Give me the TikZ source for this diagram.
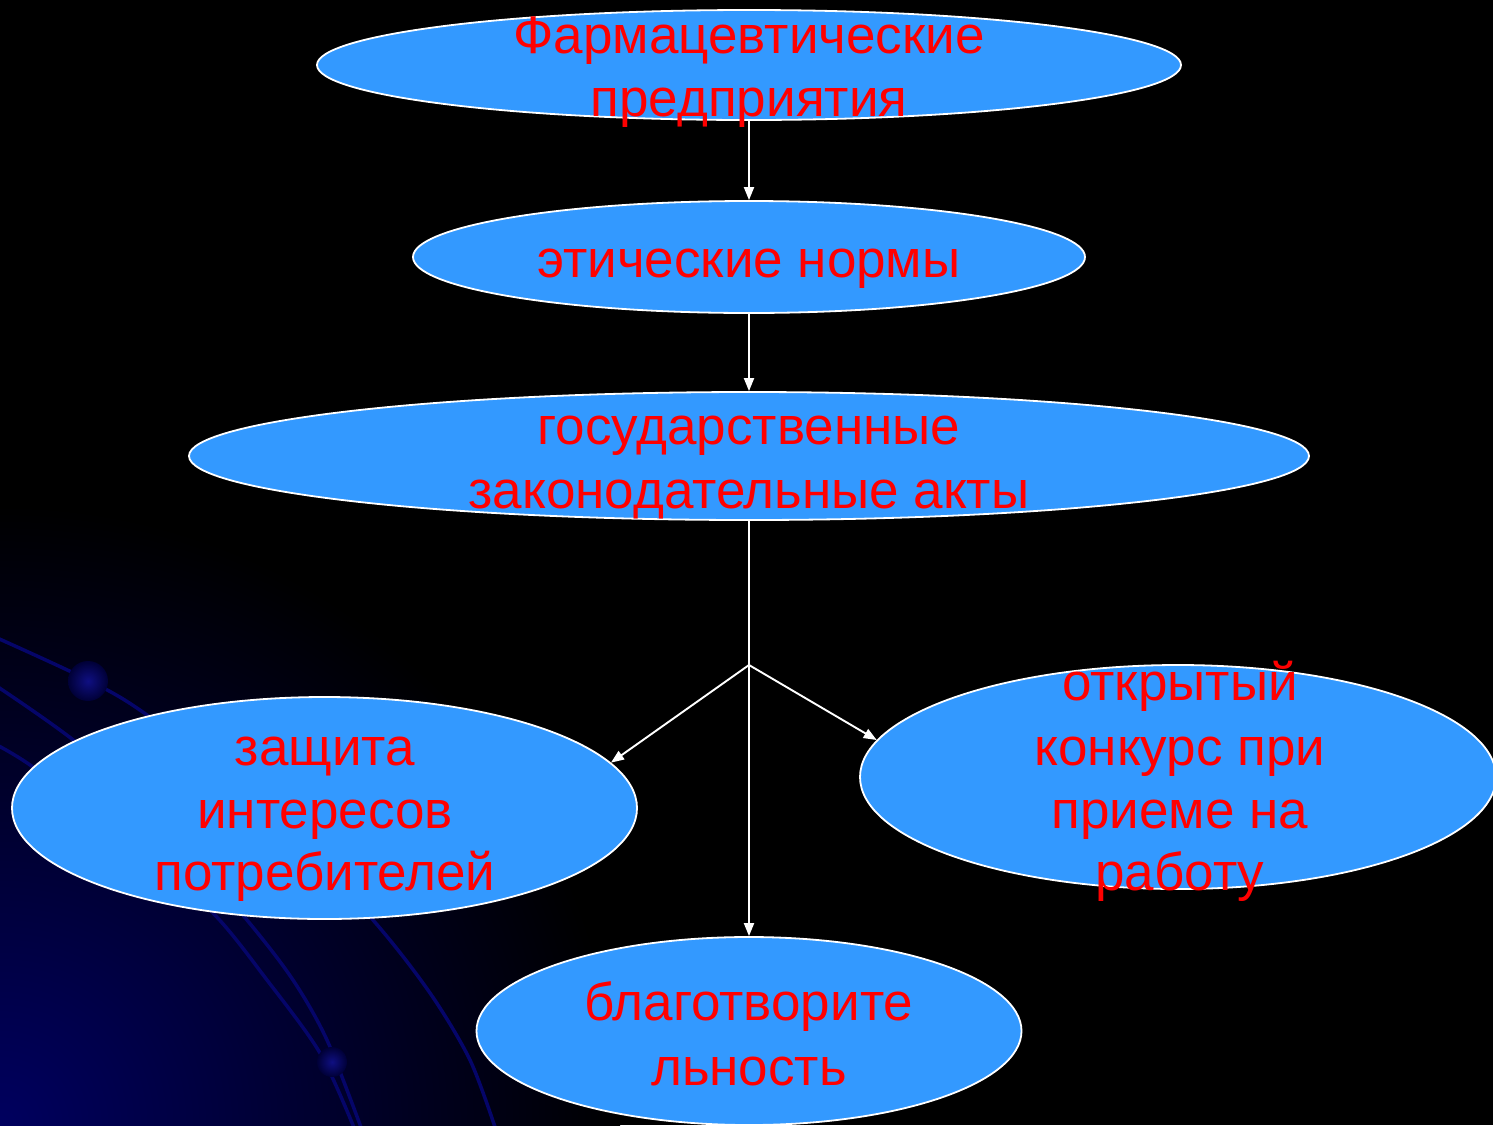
\documentclass[tikz,border=0pt]{standalone}
\usepackage{fontspec}
\setmainfont{Liberation Sans}
\usetikzlibrary{shapes.geometric,arrows.meta}
\definecolor{ellblue}{RGB}{51,153,255}
\definecolor{navyline}{RGB}{5,5,105}
\definecolor{deepblue}{RGB}{0,0,95}
\definecolor{beadin}{RGB}{15,15,130}
\definecolor{beadout}{RGB}{0,0,55}
\tikzset{
  ell/.style={ellipse, draw=white, line width=1.8pt, fill=ellblue, inner sep=0pt},
  lbl/.style={anchor=base, text=red, font=\fontsize{53}{63}\selectfont, inner sep=0pt},
  conn/.style={draw=white, line width=1.9pt, -{Triangle[width=10pt,length=13pt]}},
  swirl/.style={draw=navyline, line width=3.5pt},
  bead/.style={circle, inner color=beadin, outer color=beadout, inner sep=0pt}
}
\begin{document}
\begin{tikzpicture}[x=1pt,y=-1pt]
\useasboundingbox (0,0) rectangle (1493,1125);
\fill[black] (0,0) rectangle (1493,1125);
\begin{scope}
\clip (0,0) rectangle (1493,1125);
\shade[inner color=deepblue, outer color=black] (0,1125) circle[radius=620];
\draw[swirl] plot[smooth] coordinates {(-5,637) (88,680) (147,715) (270,810) (373,920) (430,993) (470,1060) (496,1130)};
\draw[swirl] plot[smooth] coordinates {(-5,685) (77,743) (160,820) (247,920) (293,980) (327,1040) (362,1130)};
\draw[swirl] plot[smooth] coordinates {(-5,744) (33,767) (130,840) (213,913) (267,980) (320,1053) (355,1130)};
\node[bead, minimum size=40pt] (b1) at (88,681) {};
\node[bead, minimum size=30pt] (b2) at (332,1062) {};
\end{scope}
% ellipses
\node[ell, minimum width=864pt, minimum height=110pt] (e1) at (749,65) {};
\node[ell, minimum width=672pt, minimum height=112pt] (e2) at (749,257) {};
\node[ell, minimum width=1120pt, minimum height=128pt] (e3) at (749,456) {};
\node[ell, minimum width=625pt, minimum height=222pt] (e4) at (324.5,808) {};
\node[ell, minimum width=636pt, minimum height=224pt] (e5) at (1178,777) {};
\node[ell, minimum width=545pt, minimum height=188pt] (e6) at (749,1031) {};
% labels
\node[lbl] (t1a) at (749,53) {Фармацевтические};
\node[lbl] (t1b) at (749,116) {предприятия};
\node[lbl] (t2) at (749,277) {этические нормы};
\node[lbl] (t3a) at (749,444) {государственные};
\node[lbl] (t3b) at (749,508) {законодательные акты};
\node[lbl] (t4a) at (325,765) {защита};
\node[lbl] (t4b) at (325,828) {интересов};
\node[lbl] (t4c) at (325,890) {потребителей};
\node[lbl] (t5a) at (1180,700) {открытый};
\node[lbl] (t5b) at (1180,765) {конкурс при};
\node[lbl] (t5c) at (1180,828) {приеме на};
\node[lbl] (t5d) at (1180,890) {работу};
\node[lbl] (t6a) at (749,1020) {благотворите};
\node[lbl] (t6b) at (749,1085) {льность};
% connectors
\coordinate (j) at (749,665);
\draw[conn] (e1.south) -- (e2.north);
\draw[conn] (e2.south) -- (e3.north);
\draw[draw=white, line width=1.9pt] (e3.south) -- (j);
\draw[conn] (j) -- (e4.9.5);
\draw[conn] (j) -- (e5.173.4);
\draw[conn] (j) -- (e6.north);
\end{tikzpicture}
\end{document}
